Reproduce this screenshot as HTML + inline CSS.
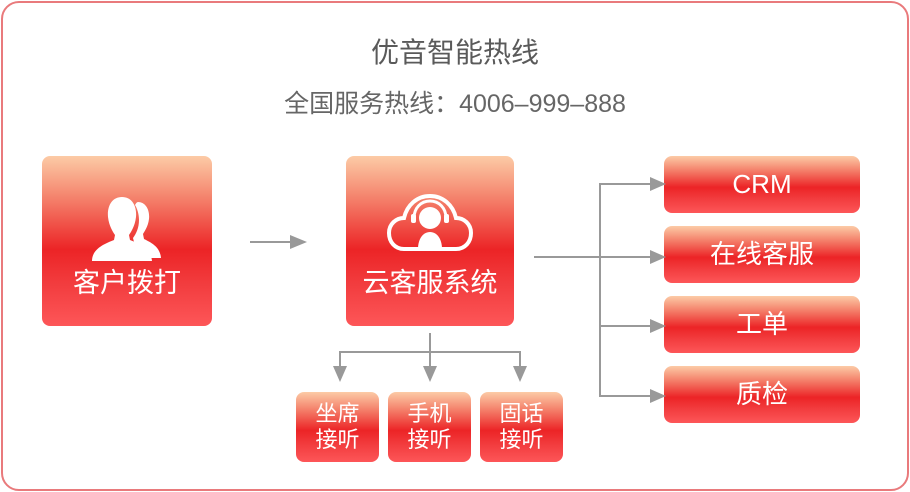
<!DOCTYPE html>
<html><head><meta charset="utf-8"><style>
body{margin:0;width:910px;height:492px;background:#fff;position:relative;overflow:hidden;font-family:"Liberation Sans","Noto Sans CJK SC",sans-serif}
.frame{position:absolute;left:1px;top:1px;width:904px;height:486px;border:2px solid #e97a7c;border-radius:18px}
.t{position:absolute;left:0;width:910px;text-align:center;color:#5a5a5a}
.b{position:absolute;border-radius:8px;background:linear-gradient(#fccba6 0%,#f58a72 22%,#ec2426 55%,#f23c3e 75%,#fd5658 100%);color:#fff;text-align:center}
.big{font-size:27px}
.r{font-size:26px;line-height:57px;height:57px;left:664px;width:196px}
.s{font-size:22px;line-height:26px;width:83px;height:70px;top:392px;padding-top:9px;box-sizing:border-box}
</style></head><body>
<div class="frame"></div>
<div class="t" style="top:31px;font-size:28px;">优音智能热线</div>
<div class="t" style="top:84px;font-size:25px;color:#666">全国服务热线：4006–999–888</div>

<div class="b" style="left:42px;top:156px;width:170px;height:170px">
<svg width="170" height="100" style="position:absolute;left:0;top:20px" viewBox="0 0 170 100">
<path fill="#fff" d="M96 26c7 0 12 7 11 17-1 8-5 13-6 15l1 5c8 4 16 8 17 19H105c-1-8-8-13-13-16l-1-4c3-4 6-10 6-18 0-6-2-12-4-15 1-2 2-3 3-3z"/>
<path fill="#fff" d="M80 21c10 0 15 9 14 20-1 9-5 15-7 18l1 5c10 4 21 9 22 21H50c0-12 12-17 22-21l1-5c-2-3-6-9-7-18-1-11 4-20 14-20z"/>
</svg>
<div class="big" style="position:absolute;top:105px;width:100%">客户拨打</div></div>

<div class="b" style="left:346px;top:156px;width:168px;height:170px">
<svg width="168" height="100" style="position:absolute;left:0;top:20px" viewBox="0 0 168 100">
<path fill="none" stroke="#fff" stroke-width="4" d="M58 73c-9 0-15-7-15-16 0-9 7-15 15-15 3-13 13-22 26-22s23 9 26 22c8 0 15 6 15 15s-6 16-15 16z"/>
<path fill="none" stroke="#fff" stroke-width="3" d="M68 42c0-10 7-17 16-17s16 7 16 17"/>
<circle cx="84" cy="42" r="11" fill="#fff"/>
<path fill="#fff" d="M72 73c0-10 5-17 12-17s12 7 12 17z"/>
<rect x="65" y="38" width="5" height="9" rx="2" fill="#fff"/><rect x="98" y="38" width="5" height="9" rx="2" fill="#fff"/>
</svg>
<div class="big" style="position:absolute;top:105px;width:100%">云客服系统</div></div>

<div class="b r" style="top:156px">CRM</div>
<div class="b r" style="top:226px">在线客服</div>
<div class="b r" style="top:296px">工单</div>
<div class="b r" style="top:366px">质检</div>

<div class="b s" style="left:296px">坐席<br>接听</div>
<div class="b s" style="left:388px">手机<br>接听</div>
<div class="b s" style="left:480px">固话<br>接听</div>

<svg width="910" height="492" style="position:absolute;left:0;top:0" fill="#999" stroke="#999" stroke-width="2">
<line x1="250" y1="242" x2="292" y2="242"/><polygon stroke="none" points="290,235 307,242 290,249"/>
<line x1="534" y1="257" x2="652" y2="257"/>
<polyline fill="none" points="652,184 600,184 600,396 652,396"/>
<line x1="600" y1="326" x2="652" y2="326"/>
<polygon stroke="none" points="650,177 666,184 650,191"/>
<polygon stroke="none" points="650,250 666,257 650,264"/>
<polygon stroke="none" points="650,319 666,326 650,333"/>
<polygon stroke="none" points="650,389 666,396 650,403"/>
<line x1="430" y1="333" x2="430" y2="367"/>
<polyline fill="none" points="340,368 340,352 520,352 520,368"/>
<polygon stroke="none" points="333,366 347,366 340,382"/>
<polygon stroke="none" points="423,366 437,366 430,382"/>
<polygon stroke="none" points="513,366 527,366 520,382"/>
</svg>
</body></html>
